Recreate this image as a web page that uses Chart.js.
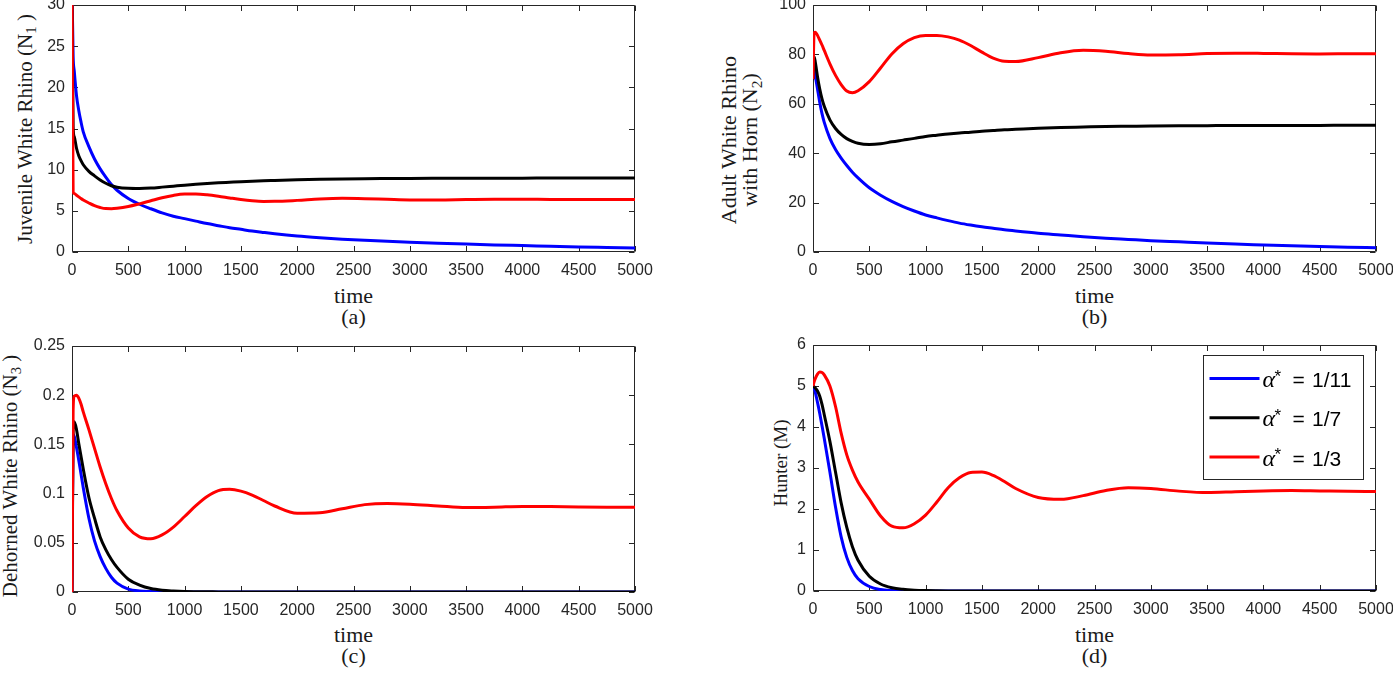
<!DOCTYPE html>
<html><head><meta charset="utf-8">
<script src="https://cdn.jsdelivr.net/npm/chart.js@4.4.1/dist/chart.umd.min.js"></script>
<style>
html,body{margin:0;padding:0;background:#fff;overflow:hidden;width:1393px;height:675px;position:relative}
canvas{position:absolute}
.t{position:absolute;font-family:'Liberation Serif','Times New Roman',serif;color:#1a1a1a;line-height:1;white-space:nowrap;font-size:21px}
.rot{transform:translate(-50%,-50%) rotate(-90deg)}
.cap{transform:translateX(-50%);font-size:22px}
sub{font-size:0.7em;vertical-align:-0.3em;line-height:0}
</style></head><body>
<div class="t rot" style="left:24.6px;top:129px">Juvenile White Rhino (N<sub>1</sub> )</div>
<div class="t rot" style="left:728.6px;top:140px;font-size:22px">Adult White Rhino</div>
<div class="t rot" style="left:749.6px;top:140px;font-size:22px">with Horn (N<sub>2</sub>)</div>
<div class="t rot" style="left:9.6px;top:475.5px">Dehorned White Rhino (N<sub>3</sub> )</div>
<div class="t rot" style="left:780.3px;top:463.4px;font-size:19px">Hunter (M)</div>
<div class="t cap" style="left:353.5px;top:284.6px">time</div>
<div class="t cap" style="left:353.5px;top:305.6px">(a)</div>
<div class="t cap" style="left:1094.5px;top:284.6px">time</div>
<div class="t cap" style="left:1094.5px;top:305.6px">(b)</div>
<div class="t cap" style="left:353.5px;top:623.6px">time</div>
<div class="t cap" style="left:353.5px;top:644.6px">(c)</div>
<div class="t cap" style="left:1094.5px;top:623.6px">time</div>
<div class="t cap" style="left:1094.5px;top:644.6px">(d)</div>
<script>
// ---------- data ----------
const time = [0, 10, 20, 40, 60, 80, 100, 150, 200, 250, 300, 350, 400, 500, 600, 700, 800, 900, 1000, 1100, 1200, 1300, 1400, 1500, 1600, 1700, 1800, 2000, 2200, 2400, 2600, 2800, 3000, 3250, 3500, 3750, 4000, 4250, 4500, 4750, 5000];

const alphaLabels = ['1/11', '1/7', '1/3'];

// (a) Juvenile N1
const N1_a11 = [32, 23.8, 22.0, 19.0, 17.2, 15.8, 14.6, 12.8, 11.3, 10.1, 9.1, 8.2, 7.5, 6.5, 5.8, 5.25, 4.75, 4.35, 4.05, 3.75, 3.45, 3.2, 2.95, 2.75, 2.55, 2.38, 2.22, 1.95, 1.74, 1.56, 1.42, 1.3, 1.19, 1.07, 0.96, 0.86, 0.78, 0.7, 0.62, 0.56, 0.5];
const N1_a7 = [32, 15.2, 14.0, 12.6, 11.7, 11.1, 10.6, 9.8, 9.25, 8.75, 8.35, 8.05, 7.87, 7.74, 7.72, 7.77, 7.88, 8.0, 8.12, 8.23, 8.32, 8.4, 8.47, 8.54, 8.6, 8.65, 8.69, 8.77, 8.83, 8.87, 8.9, 8.92, 8.94, 8.95, 8.96, 8.97, 8.97, 8.98, 8.98, 8.98, 8.98];
const N1_a3 = [32, 7.3, 7.1, 6.9, 6.7, 6.5, 6.32, 5.95, 5.62, 5.4, 5.27, 5.26, 5.31, 5.52, 5.85, 6.22, 6.59, 6.87, 7.03, 7.04, 6.95, 6.78, 6.57, 6.37, 6.22, 6.145, 6.15, 6.27, 6.44, 6.52, 6.48, 6.4, 6.33, 6.33, 6.375, 6.41, 6.405, 6.39, 6.38, 6.38, 6.38];

// (b) Adult with horn N2
const N2_a11 = [70, 74, 71.5, 66, 60.5, 56, 52.5, 46, 41.5, 38, 35, 32.3, 30, 26, 23, 20.5, 18.4, 16.6, 15.0, 13.8, 12.7, 11.7, 10.9, 10.2, 9.6, 9.0, 8.5, 7.6, 6.9, 6.2, 5.6, 5.1, 4.6, 4.1, 3.6, 3.2, 2.85, 2.5, 2.2, 1.95, 1.75];
const N2_a7 = [70, 79, 77, 71, 66, 62, 59, 53.5, 50, 47.6, 45.9, 44.8, 44.0, 43.5, 43.8, 44.6, 45.3, 46.0, 46.8, 47.3, 47.8, 48.2, 48.5, 48.9, 49.2, 49.5, 49.7, 50.1, 50.4, 50.6, 50.8, 50.9, 51.0, 51.1, 51.15, 51.2, 51.2, 51.25, 51.25, 51.3, 51.3];
const N2_a3 = [70, 88.8, 89, 87.7, 85.8, 83.8, 81.6, 76.2, 71.5, 67.8, 65.2, 64.5, 65.3, 69.0, 74.5, 80.2, 84.3, 86.8, 87.7, 87.7, 87.1, 85.8, 83.6, 80.9, 78.5, 77.2, 77.1, 78.7, 80.7, 81.7, 81.3, 80.35, 79.75, 79.88, 80.33, 80.5, 80.4, 80.25, 80.2, 80.25, 80.3];

// (c) Dehorned N3
const N3_a11 = [0, 0.16, 0.158, 0.147, 0.134, 0.12, 0.106, 0.075, 0.052, 0.036, 0.024, 0.015, 0.009, 0.003, 0.001, 0.0004, 0.0001, 0, 0, 0, 0, 0, 0, 0, 0, 0, 0, 0, 0, 0, 0, 0, 0, 0, 0, 0, 0, 0, 0, 0, 0];
const N3_a7 = [0, 0.165, 0.173, 0.165, 0.151, 0.138, 0.125, 0.096, 0.075, 0.056, 0.043, 0.033, 0.025, 0.013, 0.007, 0.0035, 0.0018, 0.001, 0.0005, 0.0003, 0.0002, 0.0001, 0, 0, 0, 0, 0, 0, 0, 0, 0, 0, 0, 0, 0, 0, 0, 0, 0, 0, 0];
const N3_a3 = [0, 0.185, 0.199, 0.2, 0.197, 0.191, 0.183, 0.165, 0.146, 0.127, 0.11, 0.095, 0.0825, 0.065, 0.056, 0.054, 0.058, 0.066, 0.0767, 0.0877, 0.097, 0.103, 0.1043, 0.1025, 0.0985, 0.093, 0.0874, 0.080, 0.0805, 0.0846, 0.0888, 0.09, 0.0893, 0.0875, 0.0858, 0.0862, 0.087, 0.0868, 0.0864, 0.0862, 0.0862];

// (d) Hunter M
const M_a11 = [5.0, 4.95, 4.85, 4.6, 4.33, 4.03, 3.72, 2.9, 2.05, 1.32, 0.82, 0.5, 0.3, 0.11, 0.035, 0.012, 0.004, 0.001, 0, 0, 0, 0, 0, 0, 0, 0, 0, 0, 0, 0, 0, 0, 0, 0, 0, 0, 0, 0, 0, 0, 0];
const M_a7 = [5.0, 4.98, 4.95, 4.88, 4.75, 4.55, 4.3, 3.65, 2.9, 2.15, 1.55, 1.08, 0.75, 0.36, 0.17, 0.08, 0.04, 0.02, 0.01, 0.005, 0.002, 0.001, 0, 0, 0, 0, 0, 0, 0, 0, 0, 0, 0, 0, 0, 0, 0, 0, 0, 0, 0];
const M_a3 = [5.0, 5.1, 5.18, 5.29, 5.34, 5.33, 5.27, 5.0, 4.5, 3.85, 3.32, 2.95, 2.66, 2.24, 1.83, 1.58, 1.54, 1.64, 1.85, 2.17, 2.52, 2.76, 2.89, 2.9, 2.82, 2.67, 2.5, 2.28, 2.235, 2.326, 2.453, 2.519, 2.5, 2.436, 2.4, 2.42, 2.44, 2.45, 2.44, 2.43, 2.425];

// tick labels
const xTicks = [0, 500, 1000, 1500, 2000, 2500, 3000, 3500, 4000, 4500, 5000];
const yTicksN1 = [0, 5, 10, 15, 20, 25, 30];
const yTicksN2 = [0, 20, 40, 60, 80, 100];
const yTicksN3 = [0, 0.05, 0.1, 0.15, 0.2, 0.25];
const yTicksM = [0, 1, 2, 3, 4, 5, 6];

// ---------- styling ----------
const lineColors = ['#0000ff', '#000000', '#ff0000'];
const axisColor = '#262626';
const tickFont = {family: "'Liberation Sans', Arial, sans-serif", size: 16};

const boxPlugin = {
  id: 'box',
  beforeDatasetsDraw(chart) {
    const {ctx, chartArea: a, scales: {x, y}} = chart;
    const L = Math.round(a.left) + 0.5, R = Math.round(a.right) - 0.5;
    const T = Math.round(a.top) + 0.5, B = Math.round(a.bottom) - 0.5;
    const tl = 5.5;
    ctx.save();
    ctx.strokeStyle = axisColor; ctx.lineWidth = 1;
    ctx.beginPath();
    ctx.rect(L, T, R - L, B - T);
    x.ticks.forEach(t => {
      const p = Math.round(x.getPixelForValue(t.value)) + 0.5;
      ctx.moveTo(p, B); ctx.lineTo(p, B - tl);
      ctx.moveTo(p, T); ctx.lineTo(p, T + tl);
    });
    y.ticks.forEach(t => {
      const p = Math.round(y.getPixelForValue(t.value)) + 0.5;
      ctx.moveTo(L, p); ctx.lineTo(L + tl, p);
      ctx.moveTo(R, p); ctx.lineTo(R - tl, p);
    });
    ctx.stroke();
    ctx.restore();
  }
};

const legendPlugin = {
  id: 'alphaLegend',
  afterDraw(chart) {
    const {ctx, chartArea: a} = chart;
    const w = 160, h = 124;
    const bx = Math.round(a.right) - 13 - w + 0.5, by = Math.round(a.top) + 10 + 0.5;
    ctx.save();
    ctx.fillStyle = '#fff';
    ctx.fillRect(bx, by, w, h);
    ctx.strokeStyle = axisColor; ctx.lineWidth = 1;
    ctx.strokeRect(bx, by, w, h);
    chart.data.datasets.forEach((ds, i) => {
      const ry = by + 23 + i * 39.3;
      ctx.strokeStyle = ds.borderColor; ctx.lineWidth = 3;
      ctx.beginPath(); ctx.moveTo(bx + 6, ry); ctx.lineTo(bx + 56, ry); ctx.stroke();
      const parts = ds.label.split('=');
      ctx.fillStyle = '#000';
      ctx.textBaseline = 'alphabetic';
      ctx.font = "italic 24px 'Liberation Serif', serif";
      ctx.fillText(parts[0].trim().charAt(0), bx + 59, ry + 8.4);
      ctx.font = "17px 'Liberation Sans', Arial, sans-serif";
      ctx.fillText('*', bx + 71, ry + 3);
      ctx.font = "21px 'Liberation Sans', Arial, sans-serif";
      ctx.fillText('=', bx + 89, ry + 8.4);
      ctx.fillText(parts[1].trim(), bx + 108.5, ry + 8.4);
    });
    ctx.restore();
  }
};

function makeChart(cfg) {
  const cv = document.createElement('canvas');
  cv.width = cfg.W; cv.height = cfg.H;
  cv.style.left = cfg.left + 'px'; cv.style.top = cfg.top + 'px';
  cv.style.width = cfg.W + 'px'; cv.style.height = cfg.H + 'px';
  document.body.appendChild(cv);
  const datasets = cfg.series.map((vals, i) => ({
    label: 'α* = ' + alphaLabels[i],
    data: time.map((t, k) => ({x: t, y: vals[k]})),
    borderColor: lineColors[i],
    backgroundColor: lineColors[i],
    borderWidth: 3,
    pointRadius: 0,
    fill: false,
    cubicInterpolationMode: 'monotone',
    order: 3 - i
  }));
  const yT = cfg.yTicks;
  return new Chart(cv, {
    type: 'line',
    data: {datasets},
    options: {
      responsive: false, animation: false, devicePixelRatio: 1,
      layout: {padding: {top: cfg.padTop, right: cfg.padRight, left: 0, bottom: 0}},
      plugins: {legend: {display: false}, tooltip: {enabled: false}},
      scales: {
        x: {
          type: 'linear', min: 0, max: 5000,
          afterBuildTicks: s => { s.ticks = xTicks.map(v => ({value: v})); },
          afterFit: s => { s.height = cfg.xH; },
          grid: {display: false, drawTicks: false},
          border: {display: false},
          ticks: {font: tickFont, color: axisColor, padding: 9, maxRotation: 0, autoSkip: false, callback: v => String(v)}
        },
        y: {
          type: 'linear', min: yT[0], max: yT[yT.length - 1],
          afterBuildTicks: s => { s.ticks = yT.map(v => ({value: v})); },
          afterFit: s => { s.width = cfg.yW; },
          grid: {display: false, drawTicks: false},
          border: {display: false},
          ticks: {font: tickFont, color: axisColor, padding: 7, autoSkip: false, callback: v => String(v)}
        }
      }
    },
    plugins: cfg.legend ? [boxPlugin, legendPlugin] : [boxPlugin]
  });
}

makeChart({left: 0, top: -15, W: 665, H: 305, padTop: 20, padRight: 30, yW: 72, xH: 38,
  series: [N1_a11, N1_a7, N1_a3], yTicks: yTicksN1});
makeChart({left: 740, top: -15, W: 665, H: 305, padTop: 20, padRight: 29, yW: 73, xH: 38,
  series: [N2_a11, N2_a7, N2_a3], yTicks: yTicksN2});
makeChart({left: 0, top: 320, W: 665, H: 305, padTop: 26, padRight: 30, yW: 72, xH: 33,
  series: [N3_a11, N3_a7, N3_a3], yTicks: yTicksN3});
makeChart({left: 740, top: 320, W: 665, H: 305, padTop: 25, padRight: 29, yW: 73, xH: 34,
  series: [M_a11, M_a7, M_a3], yTicks: yTicksM, legend: true});
</script>
</body></html>
